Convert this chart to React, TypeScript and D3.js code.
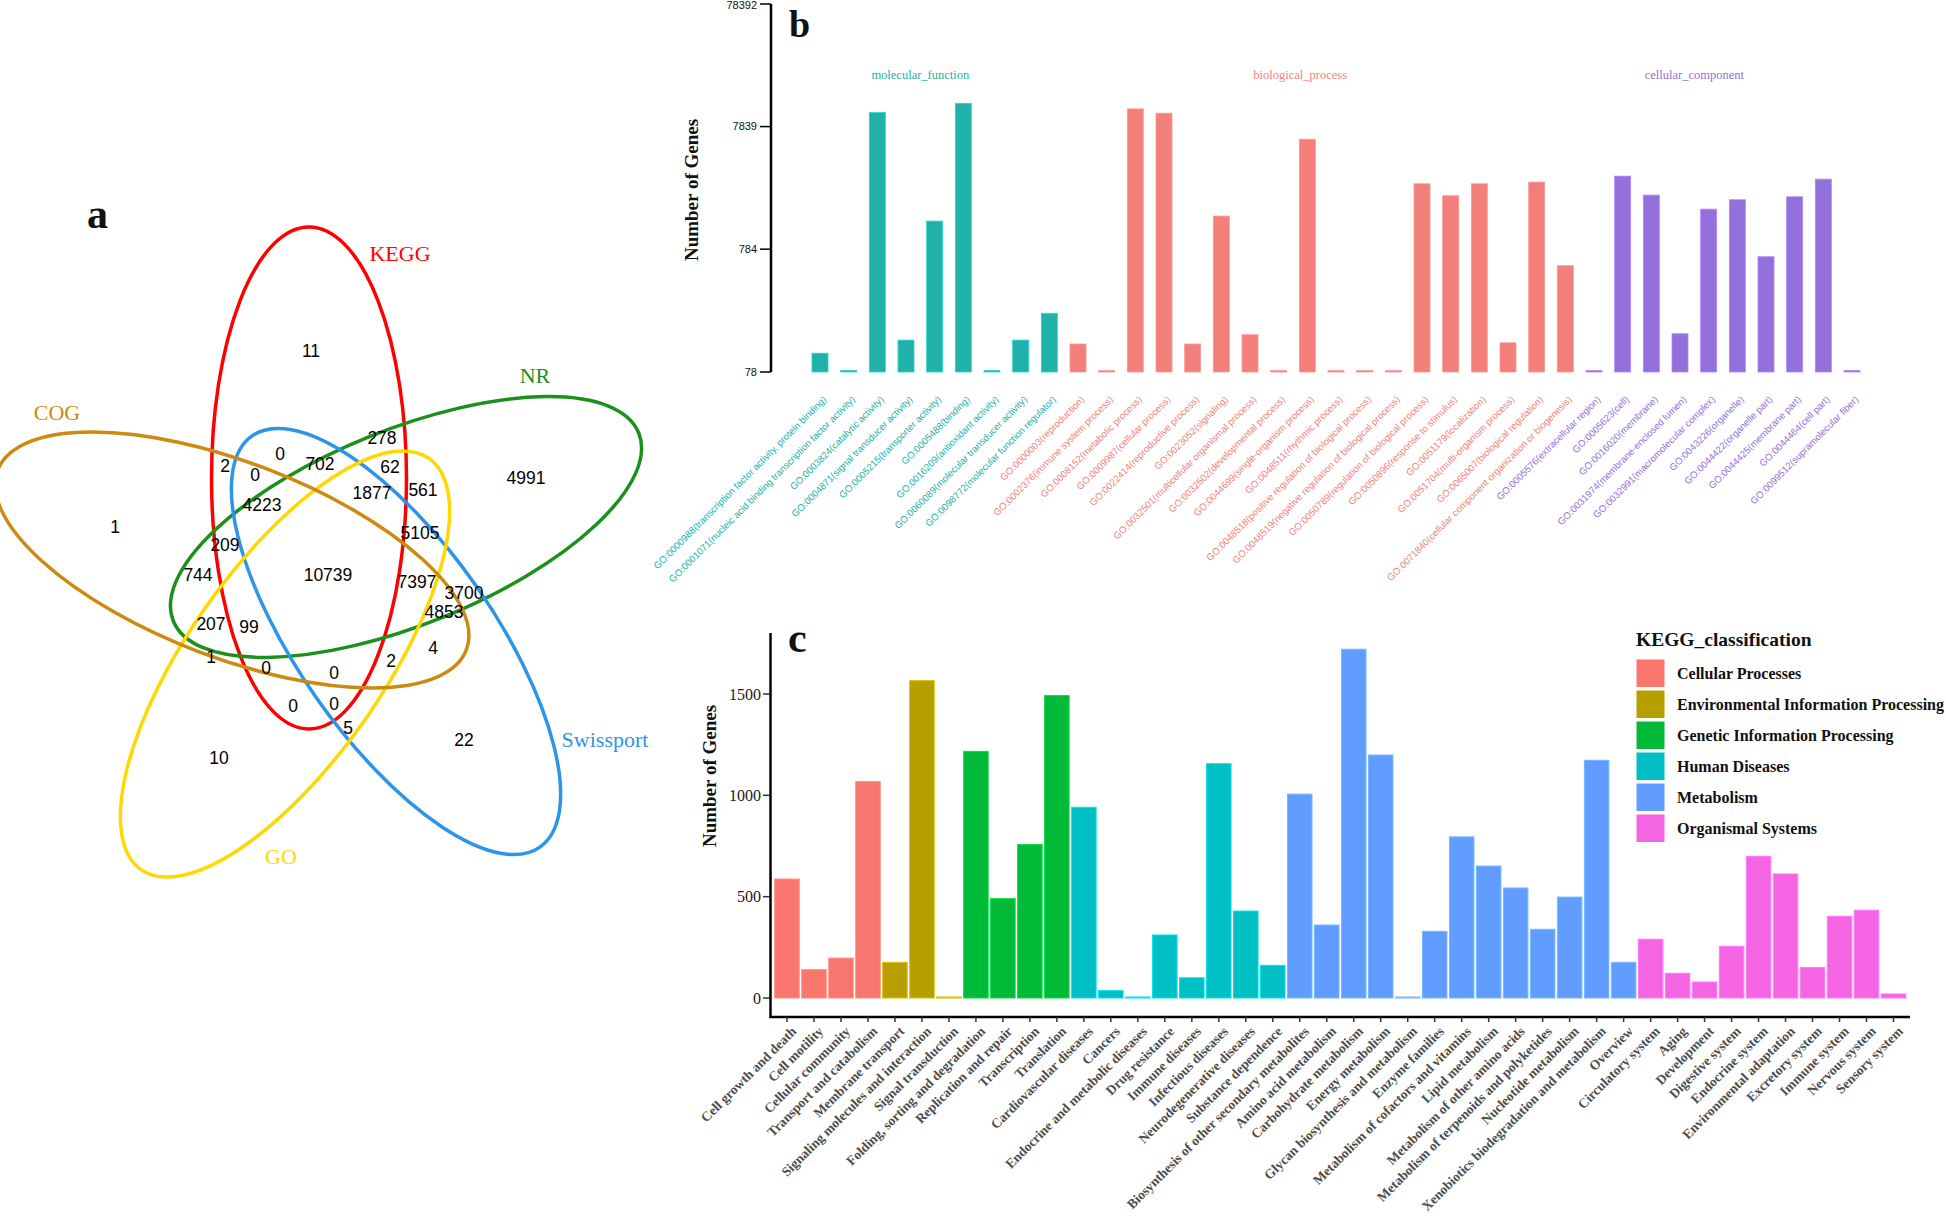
import React from "react";
import * as d3 from "d3";

// ---------- panel a : five-set Venn ----------
const vennSetNames = ["KEGG", "NR", "Swissport", "GO", "COG"];
const vennSetColors = ["#FF0000", "#1B901B", "#2D95E6", "#FFD800", "#CC8A0E"];
// region counts, read top to bottom
const vennCounts = [
  11, 278, 0, 2, 0, 702, 62, 4991, 1877, 561, 4223, 1, 5105, 209, 744, 10739,
  7397, 3700, 4853, 207, 99, 4, 1, 2, 0, 0, 0, 0, 5, 22, 10,
];

// ---------- panel b : GO ----------
const goGroups = ["molecular_function", "biological_process", "cellular_component"];
const goGroupColors = ["#20B2AA", "#F37F7B", "#9370DB"];
const goTerms = [
  "GO:0000988(transcription factor activity, protein binding)",
  "GO:0001071(nucleic acid binding transcription factor activity)",
  "GO:0003824(catalytic activity)",
  "GO:0004871(signal transducer activity)",
  "GO:0005215(transporter activity)",
  "GO:0005488(binding)",
  "GO:0016209(antioxidant activity)",
  "GO:0060089(molecular transducer activity)",
  "GO:0098772(molecular function regulator)",
  "GO:0000003(reproduction)",
  "GO:0002376(immune system process)",
  "GO:0008152(metabolic process)",
  "GO:0009987(cellular process)",
  "GO:0022414(reproductive process)",
  "GO:0023052(signaling)",
  "GO:0032501(multicellular organismal process)",
  "GO:0032502(developmental process)",
  "GO:0044699(single-organism process)",
  "GO:0048511(rhythmic process)",
  "GO:0048518(positive regulation of biological process)",
  "GO:0048519(negative regulation of biological process)",
  "GO:0050789(regulation of biological process)",
  "GO:0050896(response to stimulus)",
  "GO:0051179(localization)",
  "GO:0051704(multi-organism process)",
  "GO:0065007(biological regulation)",
  "GO:0071840(cellular component organization or biogenesis)",
  "GO:0005576(extracellular region)",
  "GO:0005623(cell)",
  "GO:0016020(membrane)",
  "GO:0031974(membrane-enclosed lumen)",
  "GO:0032991(macromolecular complex)",
  "GO:0043226(organelle)",
  "GO:0044422(organelle part)",
  "GO:0044425(membrane part)",
  "GO:0044464(cell part)",
  "GO:0099512(supramolecular fiber)",
];
const goGroupSizes = [9, 18, 10];
const goCounts = [
  111, 30, 10195, 142, 1328, 12145, 30, 142, 235,
  132, 30, 10935, 10080, 132, 1459, 157, 30, 6185, 30, 30, 30, 2677, 2137, 2677, 135, 2762, 574,
  30, 3090, 2163, 160, 1663, 1983, 680, 2097, 2919, 30,
];
const goTicks = [78, 784, 7839, 78392];

// ---------- panel c : KEGG ----------
const keggClasses = [
  "Cellular Processes",
  "Environmental Information Processing",
  "Genetic Information Processing",
  "Human Diseases",
  "Metabolism",
  "Organismal Systems",
];
const keggColors = ["#F8766D", "#B79F00", "#00BA38", "#00BFC4", "#619CFF", "#F564E3"];
const keggClassSizes = [4, 3, 4, 8, 13, 10];
const keggPathways = [
  "Cell growth and death", "Cell motility", "Cellular community", "Transport and catabolism",
  "Membrane transport", "Signaling molecules and interaction", "Signal transduction",
  "Folding, sorting and degradation", "Replication and repair", "Transcription", "Translation",
  "Cardiovascular diseases", "Cancers", "Endocrine and metabolic diseases", "Drug resistance",
  "Immune diseases", "Infectious diseases", "Neurodegenerative diseases", "Substance dependence",
  "Biosynthesis of other secondary metabolites", "Amino acid metabolism", "Carbohydrate metabolism",
  "Energy metabolism", "Glycan biosynthesis and metabolism", "Enzyme families",
  "Metabolism of cofactors and vitamins", "Lipid metabolism", "Metabolism of other amino acids",
  "Metabolism of terpenoids and polyketides", "Nucleotide metabolism",
  "Xenobiotics biodegradation and metabolism", "Overview",
  "Circulatory system", "Aging", "Development", "Digestive system", "Endocrine system",
  "Environmental adaptation", "Excretory system", "Immune system", "Nervous system", "Sensory system",
];
const keggCounts = [
  587, 140, 197, 1068,
  176, 1566, 2,
  1217, 490, 757, 1492,
  941, 36, 5, 311, 100, 1156, 429, 161,
  1006, 360, 1721, 1199, 3, 329, 795, 651, 543, 339, 498, 1173, 176,
  290, 122, 79, 255, 699, 612, 151, 403, 433, 20,
];
const keggTicks = [0, 500, 1000, 1500];

const serif = "'Liberation Serif', 'Times New Roman', serif";
const sans = "'Liberation Sans', Arial, sans-serif";

// layout of the venn (ellipse centres / angles, label spots)
const vennShapes = [
  { cx: 309, cy: 478, angle: 90 },
  { cx: 406, cy: 527, angle: -22 },
  { cx: 396, cy: 641.5, angle: 55 },
  { cx: 285, cy: 664, angle: 125 },
  { cx: 232, cy: 560, angle: 21 },
];
const vennNameSpots = [
  [400, 261], [535, 383], [605, 747], [281, 864], [57, 420],
];
const vennCountSpots = [
  [311, 351], [382, 438], [280, 454], [225, 466], [255, 475], [320, 464], [390, 467],
  [526, 478], [372, 493], [423, 490], [262, 505], [115, 527], [420, 533], [225, 545],
  [198, 575], [328, 575], [417, 582], [464, 593], [444, 612], [211, 624], [249, 627],
  [433, 648], [211, 657], [391, 661], [266, 668], [334, 673], [293, 706], [334, 704],
  [348, 728], [464, 740], [219, 758],
];

const expand = (sizes: number[]) => sizes.flatMap((n, g) => Array(n).fill(g));

export default function App() {
  const goGroupOf = expand(goGroupSizes);
  const keggClassOf = expand(keggClassSizes);

  // panel b scales
  const xb = d3.scalePoint<string>().domain(goTerms).range([820, 1852]);
  const yb = d3.scaleLog().domain([78, 78392]).range([372, 4]).clamp(true);
  const stepB = xb.step();
  const barWB = 16;

  // panel c scales
  const xc = d3.scalePoint<string>().domain(keggPathways).range([787, 1893.5]);
  const yc = d3.scaleLinear().domain([0, 1500]).range([998, 694]);
  const barWC = 24.5;
  const axisYc = yc(-94);
  const topYc = yc(1801);

  let start = 0;
  const goLabelX = goGroupSizes.map((n, g) => {
    const idx = start + n / 2 - 1 - 0.25 * g;
    start += n;
    return xb(goTerms[0])! + idx * stepB;
  });

  return (
    <svg
      width={1946}
      height={1220}
      style={{ position: "absolute", left: 0, top: 0, display: "block", background: "#fff" }}
    >
      {/* ===== panel a ===== */}
      <text x={87} y={228} fontFamily={serif} fontWeight="bold" fontSize={42} fill="#111">a</text>
      {vennShapes.map((s, i) => (
        <ellipse
          key={vennSetNames[i]}
          rx={251}
          ry={97.5}
          transform={`translate(${s.cx},${s.cy}) rotate(${s.angle})`}
          fill="none"
          stroke={vennSetColors[i]}
          strokeWidth={3.5}
        />
      ))}
      {vennSetNames.map((n, i) => (
        <text key={n} x={vennNameSpots[i][0]} y={vennNameSpots[i][1]} textAnchor="middle"
          fontFamily={serif} fontSize={22} fill={vennSetColors[i]}>{n}</text>
      ))}
      {vennCounts.map((v, i) => (
        <text key={i} x={vennCountSpots[i][0]} y={vennCountSpots[i][1]} textAnchor="middle"
          dominantBaseline="central" fontFamily={sans} fontSize={17.5} fill="#000">{v}</text>
      ))}

      {/* ===== panel b ===== */}
      <text x={789} y={37} fontFamily={serif} fontWeight="bold" fontSize={38} fill="#111">b</text>
      <text transform="translate(698,190) rotate(-90)" textAnchor="middle" fontFamily={serif}
        fontWeight="bold" fontSize={19} fill="#111">Number of Genes</text>
      <line x1={771} x2={771} y1={yb(78392)} y2={yb(78)} stroke="#000" strokeWidth={2.5} />
      {goTicks.map((t) => (
        <g key={t}>
          <line x1={760} x2={771} y1={yb(t)} y2={yb(t)} stroke="#000" strokeWidth={1.5} />
          <text x={757} y={Math.max(yb(t), 5)} dy="0.35em" textAnchor="end" fontFamily={sans} fontSize={11} fill="#111">{t}</text>
        </g>
      ))}
      {goGroups.map((g, i) => (
        <text key={g} x={goLabelX[i]} y={79} textAnchor="middle" fontFamily={serif} fontSize={12.5}
          fill={goGroupColors[i]}>{g}</text>
      ))}
      {goTerms.map((t, i) => {
        const c = goGroupColors[goGroupOf[i]];
        const y0 = yb(78);
        const y1 = yb(goCounts[i]);
        const h = Math.max(1.5, y0 - y1);
        return (
          <rect key={t} x={xb(t)! - barWB / 2} y={y0 - h} width={barWB} height={h} fill={c}
            stroke={d3.color(c)!.brighter(0.5).formatHex()} strokeWidth={0.8} />
        );
      })}
      {goTerms.map((t, i) => (
        <text key={t} transform={`translate(${xb(t)! + 2},395) rotate(-45)`} dy="0.75em"
          textAnchor="end" fontFamily={sans} fontSize={9.6} fill={goGroupColors[goGroupOf[i]]}>{t}</text>
      ))}

      {/* ===== panel c ===== */}
      <text x={788} y={652} fontFamily={serif} fontWeight="bold" fontSize={42} fill="#111">c</text>
      <text transform="translate(716,776) rotate(-90)" textAnchor="middle" fontFamily={serif}
        fontWeight="bold" fontSize={19} fill="#111">Number of Genes</text>
      {keggPathways.map((p, i) => {
        const c = keggColors[keggClassOf[i]];
        const y1 = yc(keggCounts[i]);
        const h = Math.max(1, yc(0) - y1);
        return (
          <rect key={p} x={xc(p)! - barWC / 2} y={yc(0) - h} width={barWC} height={h} fill={c}
            stroke={d3.color(c)!.brighter(0.5).formatHex()} strokeWidth={1} />
        );
      })}
      <line x1={770.5} x2={770.5} y1={topYc} y2={axisYc + 1} stroke="#000" strokeWidth={2.5} />
      <line x1={769.5} x2={1910} y1={axisYc} y2={axisYc} stroke="#000" strokeWidth={2.5} />
      {keggTicks.map((t) => (
        <g key={t}>
          <line x1={763} x2={770} y1={yc(t)} y2={yc(t)} stroke="#333" strokeWidth={1.5} />
          <text x={761} y={yc(t)} dy="0.35em" textAnchor="end" fontFamily={serif} fontSize={16} fill="#1a1a1a">{t}</text>
        </g>
      ))}
      {keggPathways.map((p) => (
        <g key={p}>
          <line x1={xc(p)!} x2={xc(p)!} y1={axisYc} y2={axisYc + 5} stroke="#333" strokeWidth={1.5} />
          <text transform={`translate(${xc(p)! + 3},1025) rotate(-45)`} dy="0.75em" textAnchor="end"
            fontFamily={serif} fontWeight="bold" fontSize={13.5} fill="#4D4D4D">{p}</text>
        </g>
      ))}
      {/* legend */}
      <text x={1636} y={646} fontFamily={serif} fontWeight="bold" fontSize={19.5} fill="#111">KEGG_classification</text>
      {keggClasses.map((k, i) => (
        <g key={k}>
          <rect x={1636} y={659 + i * 31} width={29} height={28.5} fill={keggColors[i]} stroke="#fff" strokeWidth={1} />
          <text x={1677} y={679 + i * 31} fontFamily={serif} fontWeight="bold" fontSize={16} fill="#111">{k}</text>
        </g>
      ))}
    </svg>
  );
}
